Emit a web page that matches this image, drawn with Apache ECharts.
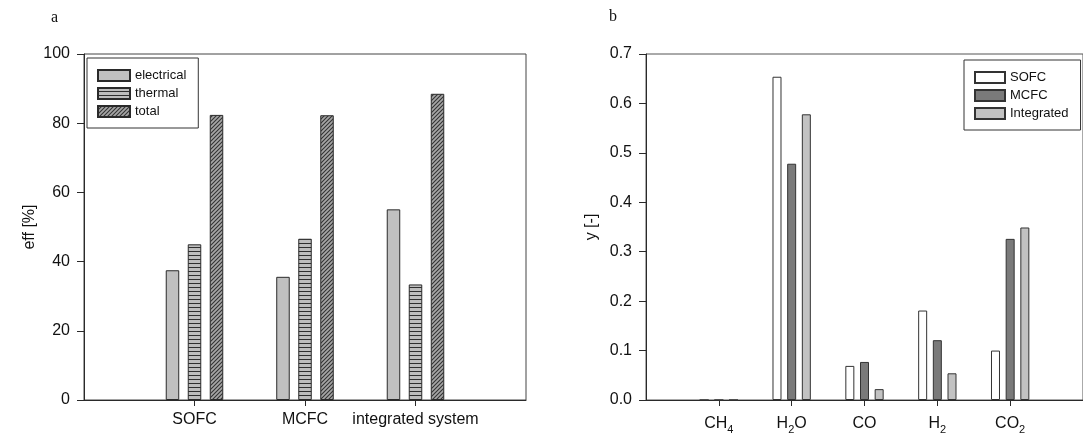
<!DOCTYPE html>
<html>
<head>
<meta charset="utf-8">
<script src="https://cdn.jsdelivr.net/npm/echarts@6/dist/echarts.min.js"></script>
<style>
  html, body { margin: 0; padding: 0; background: #fff; }
  #chart { width: 1083px; height: 437px; }
</style>
</head>
<body>
<div id="chart"></div>
<script>
// Panel a: efficiencies of each configuration [%]
const effCategories = ['SOFC', 'MCFC', 'integrated system'];
const effElectrical = [37.5, 35.6, 55.1];
const effThermal = [45.0, 46.6, 33.4];
const effTotal = [82.4, 82.3, 88.5];
const effTicks = [0, 20, 40, 60, 80, 100];

// Panel b: outlet mole fractions by species [-]
const species = ['CH4', 'H2O', 'CO', 'H2', 'CO2'];
const ySOFC = [0, 0.654, 0.069, 0.181, 0.100];
const yMCFC = [0, 0.478, 0.077, 0.121, 0.326];
const yIntegrated = [0, 0.578, 0.022, 0.054, 0.349];
const yTicks = [0, 0.1, 0.2, 0.3, 0.4, 0.5, 0.6, 0.7];

const FONT = 'Liberation Sans, Arial, sans-serif';
const SERIF = 'Liberation Serif, Times New Roman, serif';
const INK = '#111';
const EDGE = '#2a2a2a';

// Fill patterns for the efficiency bars
function stripes() {
  const c = document.createElement('canvas');
  c.width = 4; c.height = 4;
  const g = c.getContext('2d');
  g.fillStyle = '#bdbdbd';
  g.fillRect(0, 0, 4, 4);
  g.fillStyle = '#2e2e2e';
  g.fillRect(0, 3, 4, 1);
  return { image: c, repeat: 'repeat' };
}
function hatch() {
  const c = document.createElement('canvas');
  c.width = 4; c.height = 4;
  const g = c.getContext('2d');
  g.fillStyle = '#a6a6a6';
  g.fillRect(0, 0, 4, 4);
  g.strokeStyle = '#333';
  g.lineWidth = 1.1;
  g.beginPath();
  g.moveTo(-1, 5); g.lineTo(5, -1);
  g.moveTo(-1, 1); g.lineTo(1, -1);
  g.moveTo(3, 5); g.lineTo(5, 3);
  g.stroke();
  return { image: c, repeat: 'repeat' };
}

// chemical formula -> rich text with subscript digits
function formula(s) {
  return s.replace(/([A-Za-z]+)|(\d+)/g, (m, letters, digits) =>
    letters ? '{n|' + letters + '}' : '{s|' + digits + '}');
}

const toXY = arr => arr.map((v, i) => [i, v]);

function valueXAxis(gridIndex, max, labels, rich) {
  return {
    type: 'value', gridIndex, min: -1, max,
    splitLine: { show: false },
    axisLine: { onZero: false, lineStyle: { color: EDGE, width: 1 } },
    axisTick: { length: 6, customValues: labels.map((_, i) => i), lineStyle: { color: EDGE } },
    axisLabel: {
      customValues: labels.map((_, i) => i),
      formatter: v => labels[Math.round(v)] || '',
      color: INK, fontFamily: FONT, fontSize: 16, margin: 12,
      rich: rich || undefined
    }
  };
}

function valueYAxis(gridIndex, ticks, name, digits) {
  const step = ticks[1] - ticks[0];
  return {
    type: 'value', gridIndex,
    min: ticks[0], max: ticks[ticks.length - 1], interval: step,
    name, nameLocation: 'middle', nameGap: 46,
    nameTextStyle: { color: INK, fontFamily: FONT, fontSize: 16 },
    splitLine: { show: false },
    axisLine: { show: true, onZero: false, lineStyle: { color: EDGE, width: 1 } },
    axisTick: { show: true, length: 7, lineStyle: { color: EDGE } },
    axisLabel: {
      color: INK, fontFamily: FONT, fontSize: 16, margin: 14,
      formatter: v => v.toFixed(digits)
    }
  };
}

const legendBase = {
  orient: 'vertical', icon: 'rect', itemHeight: 11, itemGap: 5,
  padding: [11, 12, 10, 10], borderColor: '#333', borderWidth: 1,
  backgroundColor: '#fff', selectedMode: false,
  textStyle: { color: INK, fontFamily: FONT, fontSize: 13 }
};

const effBar = (name, data, color) => ({
  name, type: 'bar', xAxisIndex: 0, yAxisIndex: 0,
  data: toXY(data), barWidth: 13.5, barGap: '63%',
  itemStyle: { color, borderColor: EDGE, borderWidth: 1 },
  emphasis: { disabled: true }
});
const fracBar = (name, data, color) => ({
  name, type: 'bar', xAxisIndex: 1, yAxisIndex: 1,
  data: toXY(data), barWidth: 9, barGap: '63%',
  itemStyle: { color, borderColor: '#333', borderWidth: 1 },
  emphasis: { disabled: true }
});

const chart = echarts.init(document.getElementById('chart'), null, { renderer: 'canvas' });
chart.setOption({
  animation: false,
  backgroundColor: '#fff',
  title: [
    { text: 'a', left: 51, top: 10, padding: 0,
      textStyle: { fontFamily: SERIF, fontSize: 16, fontWeight: 'normal', color: INK } },
    { text: 'b', left: 609, top: 9, padding: 0,
      textStyle: { fontFamily: SERIF, fontSize: 16, fontWeight: 'normal', color: INK } }
  ],
  grid: [
    { left: 84, top: 54, right: 557, bottom: 37, show: true, borderColor: '#444', borderWidth: 1 },
    { left: 646, top: 54, right: -5, bottom: 37, show: true, borderColor: '#555', borderWidth: 1 }
  ],
  xAxis: [
    valueXAxis(0, 3, effCategories),
    valueXAxis(1, 5, species.map(formula), {
      n: { fontFamily: FONT, fontSize: 16, color: INK, lineHeight: 23 },
      s: { fontFamily: FONT, fontSize: 11, color: INK, lineHeight: 11, padding: [12, 0, 0, 0] }
    })
  ],
  yAxis: [
    valueYAxis(0, effTicks, 'eff [%]', 0),
    valueYAxis(1, yTicks, 'y [-]', 1)
  ],
  legend: [
    Object.assign({}, legendBase, { left: 87, top: 58, itemWidth: 32,
      data: ['electrical', 'thermal', 'total'] }),
    Object.assign({}, legendBase, { left: 964, top: 60, itemWidth: 30,
      data: ['SOFC', 'MCFC', 'Integrated'] })
  ],
  series: [
    effBar('electrical', effElectrical, '#c0c0c0'),
    effBar('thermal', effThermal, stripes()),
    effBar('total', effTotal, hatch()),
    fracBar('SOFC', ySOFC, '#ffffff'),
    fracBar('MCFC', yMCFC, '#7a7a7a'),
    fracBar('Integrated', yIntegrated, '#c2c2c2')
  ]
});
</script>
</body>
</html>
